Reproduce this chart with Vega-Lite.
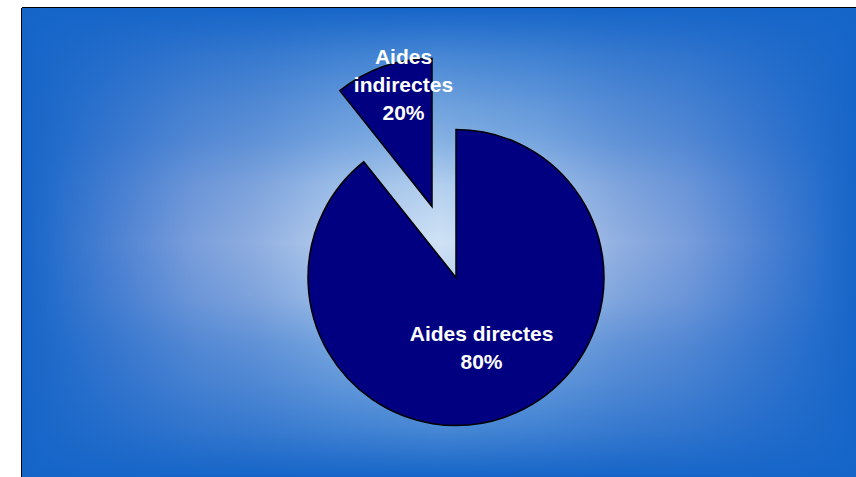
{
  "$schema": "https://vega.github.io/schema/vega-lite/v6.json",
  "width": 834,
  "height": 469,
  "padding": {"left": 22, "top": 8, "right": 0, "bottom": 0},
  "autosize": {"type": "none"},
  "background": "white",
  "view": {"stroke": "black", "strokeWidth": 2, "strokeDash": [834, 1303, 469, 0]},
  "data": {
    "values": [
      {"aide": "Aides directes", "valeur": 89.3, "etiquette": "Aides directes\n80%", "ordre": 1},
      {"aide": "Aides indirectes", "valeur": 10.7, "etiquette": "Aides\nindirectes\n20%", "ordre": 2}
    ]
  },
  "transform": [
    {"stack": "valeur", "groupby": [], "sort": [{"field": "ordre", "order": "ascending"}], "as": ["debut", "fin"]}
  ],
  "layer": [
    {
      "data": {"values": [{"fond": "horizontal"}]},
      "transform": [],
      "mark": {
        "type": "rect",
        "fill": {
          "gradient": "linear", "x1": 0, "y1": 0, "x2": 1, "y2": 0,
          "stops": [
            {"offset": 0, "color": "#1565c8"},
            {"offset": 0.105, "color": "#4a80d2"},
            {"offset": 0.205, "color": "#7a9edb"},
            {"offset": 0.28, "color": "#90aee0"},
            {"offset": 0.38, "color": "#b4cdee"},
            {"offset": 0.5, "color": "#cfe2f5"},
            {"offset": 0.62, "color": "#b4cdee"},
            {"offset": 0.72, "color": "#90aee0"},
            {"offset": 0.795, "color": "#7a9edb"},
            {"offset": 0.895, "color": "#4a80d2"},
            {"offset": 1, "color": "#1565c8"}
          ]
        }
      },
      "encoding": {}
    },
    {
      "data": {"values": [{"fond": "vertical"}]},
      "transform": [],
      "mark": {
        "type": "rect",
        "fill": {
          "gradient": "linear", "x1": 0, "y1": 0, "x2": 0, "y2": 1,
          "stops": [
            {"offset": 0, "color": "rgba(21,101,200,1)"},
            {"offset": 0.105, "color": "rgba(21,101,200,0.72)"},
            {"offset": 0.205, "color": "rgba(21,101,200,0.52)"},
            {"offset": 0.28, "color": "rgba(21,101,200,0.4)"},
            {"offset": 0.38, "color": "rgba(21,101,200,0.15)"},
            {"offset": 0.5, "color": "rgba(21,101,200,0)"},
            {"offset": 0.62, "color": "rgba(21,101,200,0.15)"},
            {"offset": 0.72, "color": "rgba(21,101,200,0.4)"},
            {"offset": 0.795, "color": "rgba(21,101,200,0.52)"},
            {"offset": 0.895, "color": "rgba(21,101,200,0.72)"},
            {"offset": 1, "color": "rgba(21,101,200,1)"}
          ]
        }
      },
      "encoding": {}
    },
    {
      "transform": [{"filter": "datum.ordre == 1"}],
      "mark": {"type": "arc", "outerRadius": 148, "xOffset": 17, "yOffset": 35, "fill": "#000080", "stroke": "black", "strokeWidth": 1.5},
      "encoding": {
        "theta": {"field": "debut", "type": "quantitative", "scale": {"domain": [0, 100]}},
        "theta2": {"field": "fin"}
      }
    },
    {
      "transform": [{"filter": "datum.ordre == 2"}],
      "mark": {"type": "arc", "outerRadius": 148, "xOffset": -7, "yOffset": -36, "fill": "#000080", "stroke": "black", "strokeWidth": 1.5},
      "encoding": {
        "theta": {"field": "debut", "type": "quantitative", "scale": {"domain": [0, 100]}},
        "theta2": {"field": "fin"}
      }
    },
    {
      "mark": {"type": "text", "radius": 135, "xOffset": -2, "yOffset": -35, "font": "Liberation Sans", "fontWeight": "bold", "fontSize": 21, "lineHeight": 28, "lineBreak": "\n", "fill": "white", "align": "center", "baseline": "middle"},
      "encoding": {
        "theta": {"field": "valeur", "type": "quantitative", "stack": true, "scale": {"domain": [0, 100]}},
        "order": {"field": "ordre"},
        "detail": {"field": "aide"},
        "text": {"condition": {"test": "datum.ordre == 1", "field": "etiquette"}, "value": ""}
      }
    },
    {
      "mark": {"type": "text", "radius": 135, "xOffset": 9, "yOffset": -57, "font": "Liberation Sans", "fontWeight": "bold", "fontSize": 21, "lineHeight": 28, "lineBreak": "\n", "fill": "white", "align": "center", "baseline": "middle"},
      "encoding": {
        "theta": {"field": "valeur", "type": "quantitative", "stack": true, "scale": {"domain": [0, 100]}},
        "order": {"field": "ordre"},
        "detail": {"field": "aide"},
        "text": {"condition": {"test": "datum.ordre == 2", "field": "etiquette"}, "value": ""}
      }
    }
  ]
}
